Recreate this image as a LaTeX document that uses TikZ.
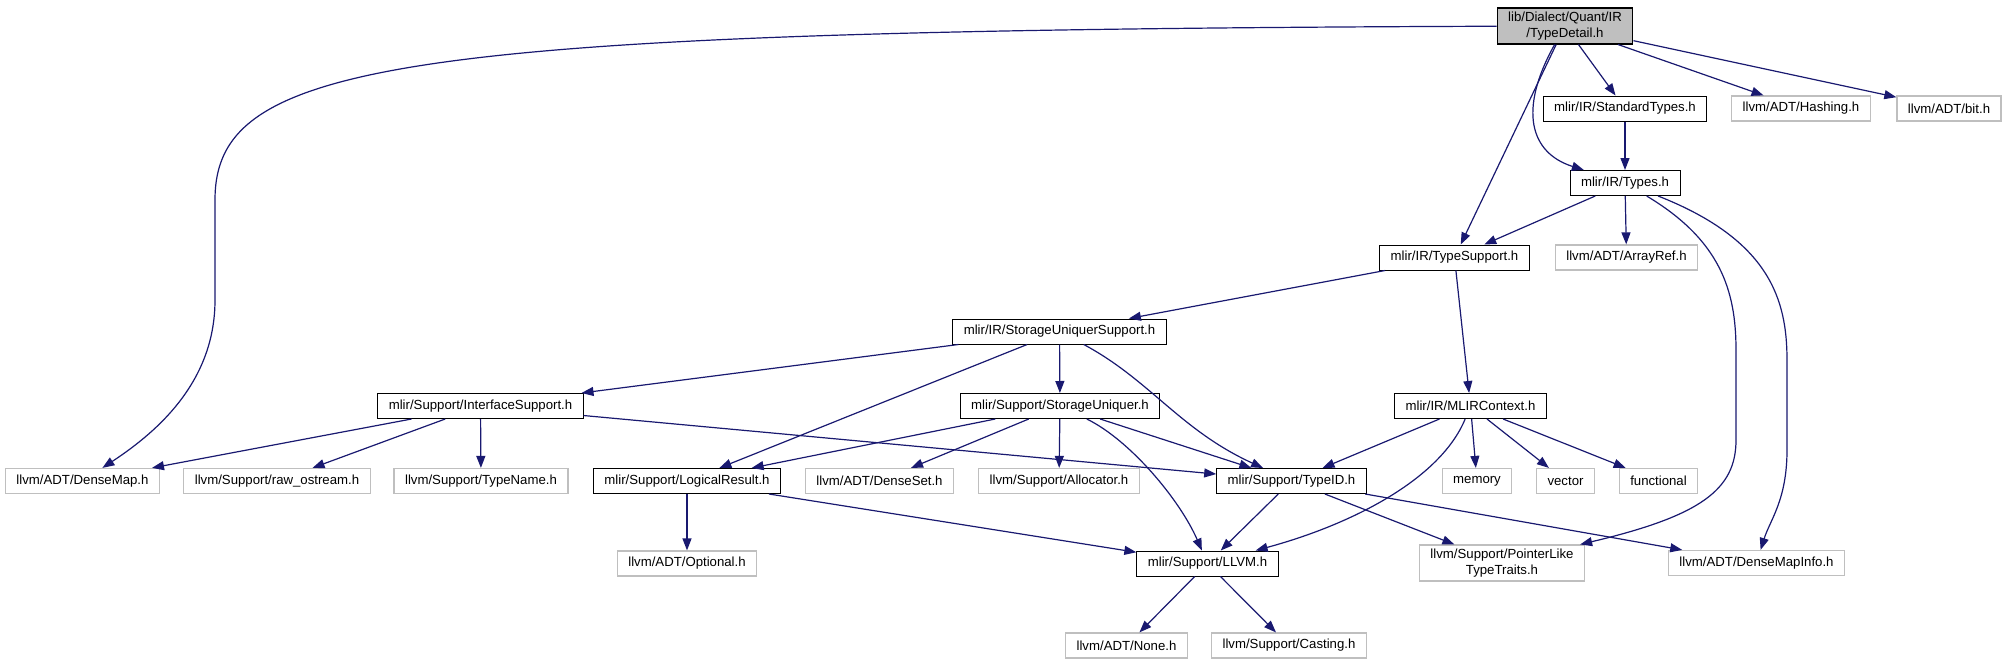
\documentclass[tikz,border=0pt]{standalone}
\usepackage{fontspec}
\setmainfont{Liberation Sans}
\usepackage{xcolor}
\usepackage{tikz}
\usetikzlibrary{arrows.meta}
\definecolor{edgeblue}{HTML}{191970}
\definecolor{extgray}{HTML}{BFBFBF}

\begin{document}
\begin{tikzpicture}[x=0.5pt,y=-0.5pt,
  every node/.style={font=\fontsize{6.6}{7.8}\selectfont,inner xsep=5.5pt,inner ysep=2pt,minimum height=12.5pt,align=center,fill=white},
  doc/.style={draw=black,line width=0.5pt},
  ext/.style={draw=extgray,line width=0.6pt},
  rootfile/.style={draw=black,fill=extgray,line width=0.6pt},
  dep/.style={draw=edgeblue,line width=0.6pt,-{Triangle[length=6pt,width=4.5pt]}}]
  \useasboundingbox (0,0) rectangle (2008,664);

  % headers
  \node[rootfile] (typedetail) at (1565,26) {lib/Dialect/Quant/IR\\/TypeDetail.h};
  \node[doc] (stdtypes) at (1625,108.5) {mlir/IR/StandardTypes.h};
  \node[ext] (hashing) at (1801,108.5) {llvm/ADT/Hashing.h};
  \node[ext] (bit) at (1949,108.5) {llvm/ADT/bit.h};
  \node[doc] (types) at (1625,183) {mlir/IR/Types.h};
  \node[doc] (typesupport) at (1454.5,257.5) {mlir/IR/TypeSupport.h};
  \node[ext] (arrayref) at (1626.5,257.5) {llvm/ADT/ArrayRef.h};
  \node[doc] (sus) at (1059.5,331.5) {mlir/IR/StorageUniquerSupport.h};
  \node[doc] (iface) at (480.5,406) {mlir/Support/InterfaceSupport.h};
  \node[doc] (uniquer) at (1060,406) {mlir/Support/StorageUniquer.h};
  \node[doc] (mlirctx) at (1470.5,406) {mlir/IR/MLIRContext.h};
  \node[ext] (densemap) at (82.5,481) {llvm/ADT/DenseMap.h};
  \node[ext] (rawos) at (277,481) {llvm/Support/raw\_ostream.h};
  \node[ext] (typename) at (481,481) {llvm/Support/TypeName.h};
  \node[doc] (logical) at (687,481) {mlir/Support/LogicalResult.h};
  \node[ext] (denseset) at (879.5,481) {llvm/ADT/DenseSet.h};
  \node[ext] (alloc) at (1059,481) {llvm/Support/Allocator.h};
  \node[doc] (typeid) at (1291.5,481) {mlir/Support/TypeID.h};
  \node[ext] (memory) at (1477,481) {memory};
  \node[ext] (vector) at (1565.5,481) {vector};
  \node[ext] (functional) at (1658.5,481) {functional};
  \node[ext] (optional) at (687,563.5) {llvm/ADT/Optional.h};
  \node[doc] (llvm) at (1207.5,563.5) {mlir/Support/LLVM.h};
  \node[ext] (ptrlike) at (1502,563) {llvm/Support/PointerLike\\TypeTraits.h};
  \node[ext] (dmi) at (1756.5,563) {llvm/ADT/DenseMapInfo.h};
  \node[ext] (none) at (1126.5,645.5) {llvm/ADT/None.h};
  \node[ext] (casting) at (1289,645.5) {llvm/Support/Casting.h};

  % straight includes
  \foreach \a/\b in {typedetail/stdtypes,typedetail/hashing,typedetail/bit,typedetail/typesupport,
      stdtypes/types,types/typesupport,types/arrayref,typesupport/sus,typesupport/mlirctx,
      sus/iface,sus/uniquer,sus/logical,iface/densemap,iface/rawos,iface/typename,iface/typeid,
      uniquer/logical,uniquer/denseset,uniquer/alloc,uniquer/typeid,
      mlirctx/typeid,mlirctx/memory,mlirctx/vector,mlirctx/functional,
      logical/optional,logical/llvm,typeid/llvm,typeid/ptrlike,typeid/dmi,llvm/none,llvm/casting}
    \draw[dep] (\a) -- (\b);

  % curved includes
  \draw[dep] (typedetail) .. controls (400,30) and (215,60) .. (215,200) -- (215,300)
    .. controls (215,380) and (160,430) .. (densemap);
  \draw[dep] (typedetail) .. controls (1518,110) and (1530,153) .. (types);
  \draw[dep] (types) .. controls (1720,240) and (1736,290) .. (1736,350) -- (1736,440)
    .. controls (1736,490) and (1700,516) .. (ptrlike);
  \draw[dep] (types) .. controls (1770,240) and (1787,300) .. (1787,360) -- (1787,450)
    .. controls (1787,500) and (1770,520) .. (dmi);
  \draw[dep] (sus) .. controls (1150,380) and (1180,430) .. (typeid);
  \draw[dep] (uniquer) .. controls (1130,440) and (1180,500) .. (llvm);
  \draw[dep] (mlirctx) .. controls (1440,480) and (1350,525) .. (llvm);
\end{tikzpicture}
\end{document}
